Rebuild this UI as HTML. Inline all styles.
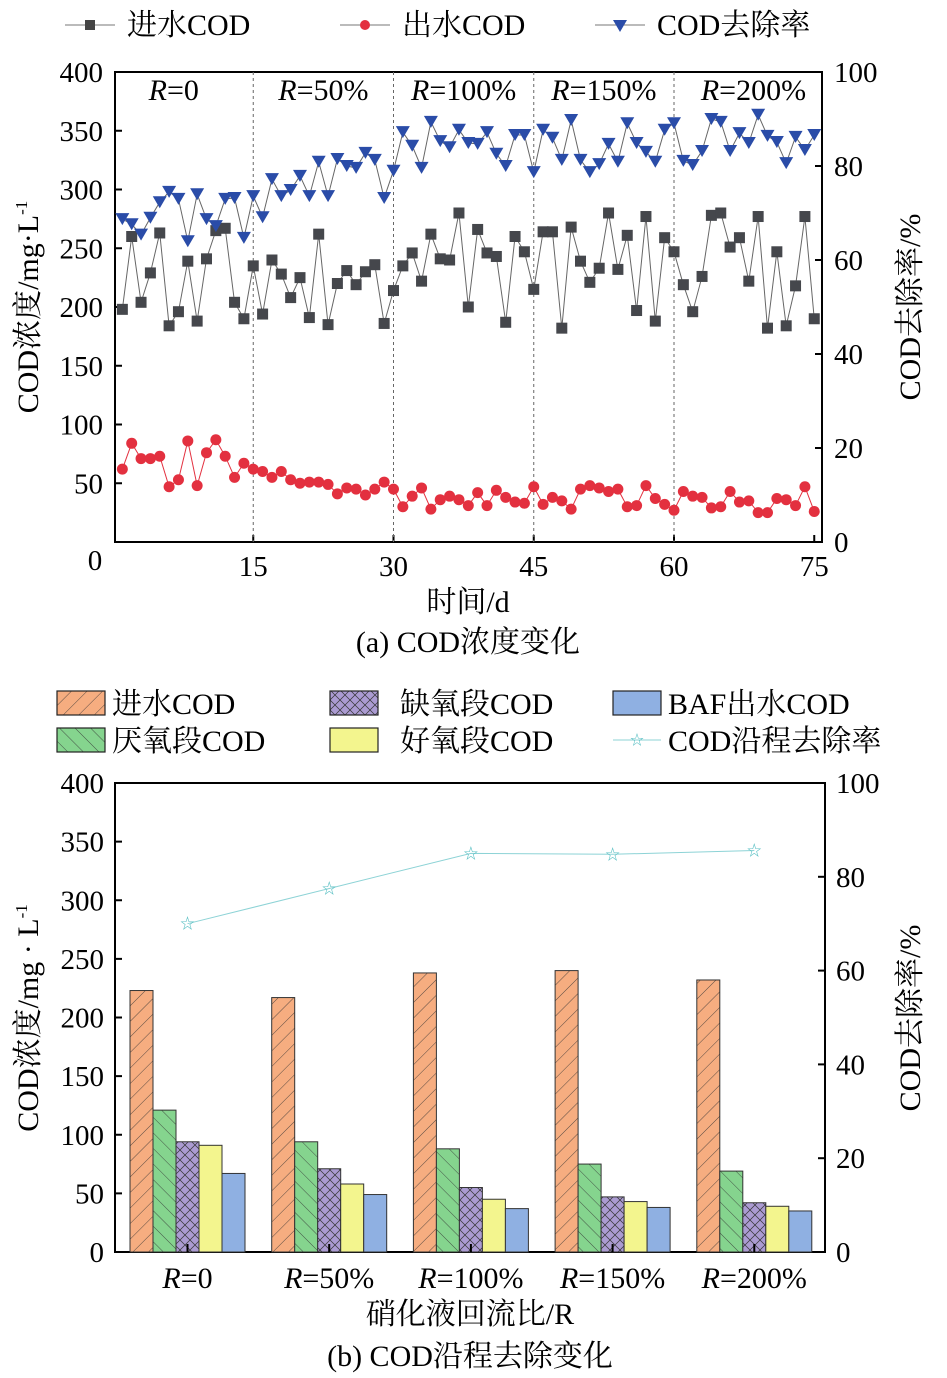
<!DOCTYPE html>
<html><head><meta charset="utf-8"><style>
html,body{margin:0;padding:0;background:#fff;}
svg{display:block;font-family:"Liberation Serif","Noto Serif CJK SC",serif;}
</style></head><body>
<svg id="chart" width="947" height="1378" viewBox="0 0 947 1378" xmlns="http://www.w3.org/2000/svg">
<defs>
<pattern id="hatchF" patternUnits="userSpaceOnUse" width="11" height="11" patternTransform="rotate(45)"><rect width="11" height="11" fill="#f6ad80"/><line x1="0" y1="0" x2="0" y2="11" stroke="#333" stroke-width="0.8"/></pattern>
<pattern id="hatchB" patternUnits="userSpaceOnUse" width="11" height="11" patternTransform="rotate(-45)"><rect width="11" height="11" fill="#85d48e"/><line x1="0" y1="0" x2="0" y2="11" stroke="#333" stroke-width="0.8"/></pattern>
<pattern id="hatchX" patternUnits="userSpaceOnUse" width="10" height="10"><rect width="10" height="10" fill="#ab9bd2"/><path d="M0 0L10 10M10 0L0 10" stroke="#333" stroke-width="0.7"/></pattern>
</defs>
<g id="top"></g>
<g id="bottom"></g>
</svg>
<script>
// ---- Top chart data ----
const days = Array.from({length:75},(_,i)=>i+1);
const influent = [198,260,204,229,263,184,196,239,188,241,265,267,204,190,235,194,240,228,208,225,191,262,185,220,231,219,230,236,186,214,235,246,222,262,241,240,280,200,266,246,243,187,260,247,215,264,264,182,268,239,221,233,280,232,261,197,277,188,259,247,219,196,226,278,280,251,259,222,277,182,247,184,218,277,190];
const effluent = [62,84,71,71,73,47,53,86,48,76,87,73,55,67,62,60,55,60,53,50,51,51,49,41,46,45,40,45,51,45,30,39,46,28,36,39,36,31,42,31,44,38,34,33,47,32,38,35,28,45,48,46,43,45,30,31,48,37,32,27,43,39,38,29,30,43,34,35,25,25,37,36,31,47,26];
const removal = [68.7,67.6,65.4,69,72.3,74.5,73,64,74,68.7,67.2,73,73.2,64.7,73.6,69.1,77.2,73.6,74.9,77.9,73.6,80.9,73.6,81.5,80,79.6,82.8,81.3,73.2,79,87.2,84.3,79.6,89.4,85.3,84,87.7,84.9,84.7,87.2,82.6,80,86.6,86.6,78.7,87.7,86,81.3,89.8,81.3,78.7,80.4,84.7,80.9,89.1,84.9,83,80.9,87.7,89.1,81.1,80.2,83.2,90,89.4,83.2,87,84.9,90.9,86.4,85.1,80.6,86.2,83.4,86.6];
const leftTicks = [0,50,100,150,200,250,300,350,400];
const rightTicks = [0,20,40,60,80,100];
const xTicks = [15,30,45,60,75];
const phaseLabels = ["0","50%","100%","150%","200%"];
const phaseLabelDays = [6.5,22.5,37.5,52.5,68.5];

// ---- Bottom chart data ----
const groups = ["0","50%","100%","150%","200%"];
const inCOD = [223,217,238,240,232];
const anaCOD = [121,94,88,75,69];
const anoxCOD = [94,71,55,47,42];
const oxCOD = [91,58,45,43,39];
const bafCOD = [67,49,37,38,35];
const rateB = [70,77.5,85,84.8,85.6];

const NS="http://www.w3.org/2000/svg";
const FS=29;
function el(tag,attrs,parent,text){const e=document.createElementNS(NS,tag);for(const k in attrs)e.setAttribute(k,attrs[k]);if(text!==undefined)e.textContent=text;parent.appendChild(e);return e;}

// ===== TOP =====
const T=document.getElementById('top');
const tx0=115,tx1=822,ty0=72,ty1=542;
const xT=d=>113+d*9.35;
const yL=v=>ty1-(v/400)*(ty1-ty0);
const yR=v=>ty1-(v/100)*(ty1-ty0);
const lg=el('g',{},T);

[[65,'进水COD','sq','#444'],[340,'出水COD','ci','#e3303f'],[595,'COD去除率','tr','#2a4ca8']].forEach(([x,t,m,c])=>{
 const g=el('g',{},lg);
 el('line',{x1:x,y1:25,x2:x+50,y2:25,stroke:'#777','stroke-width':1},g);
 if(m==='sq')el('rect',{x:x+20,y:20,width:10,height:10,fill:c},g);
 if(m==='ci')el('circle',{cx:x+25,cy:25,r:5,fill:c},g);
 if(m==='tr')el('path',{d:`M${x+18} 20L${x+32} 20L${x+25} 32Z`,fill:c},g);
 el('text',{x:x+62,y:35,'font-size':30},g,t);
});
const fr=el('rect',{x:tx0,y:ty0,width:tx1-tx0,height:ty1-ty0,fill:'none',stroke:'#000','stroke-width':2},T);

leftTicks.forEach(v=>{const y=yL(v);el('line',{x1:tx0,y1:y,x2:tx0+7,y2:y,stroke:'#000','stroke-width':2},T);
 if(v>0){const t=el('text',{x:103,y:y+10,'font-size':FS,'text-anchor':'end'},T,v);}});
el('text',{x:95,y:570,'font-size':FS,'text-anchor':'middle'},T,'0');
rightTicks.forEach(v=>{const y=yR(v);el('line',{x1:tx1,y1:y,x2:tx1-7,y2:y,stroke:'#000','stroke-width':2},T);
 const t=el('text',{x:834,y:v===0?552:y+10,'font-size':FS},T,v);});
xTicks.forEach((d,i)=>{const x=xT(d);el('line',{x1:x,y1:ty1,x2:x,y2:ty1-7,stroke:'#000','stroke-width':2},T);
 if(i<4)el('line',{x1:x,y1:ty0,x2:x,y2:ty1,stroke:'#666','stroke-width':1,'stroke-dasharray':'3,3'},T);
 const t=el('text',{x:x,y:576,'font-size':FS,'text-anchor':'middle'},T,d);});
phaseLabels.forEach((p,i)=>{const t=el('text',{x:xT(phaseLabelDays[i]),y:100,'font-size':30,'text-anchor':'middle'},T);
 
 el('tspan',{'font-style':'italic'},t,'R');el('tspan',{},t,'='+p);});
const yt=el('text',{transform:'translate(38,307) rotate(-90)','font-size':30,'text-anchor':'middle'},T,'COD浓度/mg·L');

el('tspan',{dy:-11,'font-size':17},yt,'-1');
const y2t=el('text',{transform:'translate(920,307) rotate(-90)','font-size':30,'text-anchor':'middle'},T,'COD去除率/%');

const xt=el('text',{x:468,y:612,'font-size':30,'text-anchor':'middle'},T,'时间/d');
const cap=el('text',{x:468,y:652,'font-size':30,'text-anchor':'middle'},T,'(a) COD浓度变化');
function series(vals,yf,color,marker,name){
 const g=el('g',{},T);
 el('polyline',{points:vals.map((v,i)=>xT(days[i])+','+yf(v)).join(' '),fill:'none',stroke:marker==='ci'?'#e3303f':'#666','stroke-width':1},g);
 vals.forEach((v,i)=>{const x=xT(days[i]),y=yf(v);let m;
  if(marker==='sq')m=el('rect',{x:x-5.5,y:y-5.5,width:11,height:11,fill:color},g);
  else if(marker==='ci')m=el('circle',{cx:x,cy:y,r:5.5,fill:color},g);
  else m=el('path',{d:`M${x-7} ${y-6}L${x+7} ${y-6}L${x} ${y+6}Z`,fill:color},g);
  });
}
series(influent,yL,'#45474c','sq','influent-series');
series(effluent,yL,'#e3303f','ci','effluent-series');
series(removal,yR,'#2a4ca8','tr','removal-series');

// ===== BOTTOM =====
const B=document.getElementById('bottom');
const bx0=115,bx1=825,by0=783,by1=1252;
const yB=v=>by1-(v/400)*(by1-by0);
const yB2=v=>by1-(v/100)*(by1-by0);
const gx=i=>187.5+i*141.7;
const items=[[57,703,'url(#hatchF)','进水COD'],[330,703,'url(#hatchX)','缺氧段COD'],[613,703,'#8fb0e2','BAF出水COD'],[57,740,'url(#hatchB)','厌氧段COD'],[330,740,'#f3f58e','好氧段COD']];
items.forEach(([x,y,f,t])=>{const g=el('g',{},B);
 el('rect',{x:x,y:y-12,width:48,height:24,fill:f,stroke:'#222','stroke-width':1.2},g);
 el('text',{x:x+(x===57?55:x===330?70:55),y:y+11,'font-size':30},g,t);});
{const g=el('g',{},B);
 el('line',{x1:613,y1:740,x2:661,y2:740,stroke:'#8dd3d6','stroke-width':1},g);
 el('text',{x:637,y:745,'font-size':14,fill:'#5bc0c4','text-anchor':'middle'},g,'☆');
 el('text',{x:668,y:751,'font-size':30},g,'COD沿程去除率');}
const fr2=el('rect',{x:bx0,y:by0,width:bx1-bx0,height:by1-by0,fill:'none',stroke:'#000','stroke-width':2},B);

leftTicks.forEach(v=>{const y=yB(v);el('line',{x1:bx0,y1:y,x2:bx0+7,y2:y,stroke:'#000','stroke-width':2},B);
 const t=el('text',{x:104,y:y+10,'font-size':FS,'text-anchor':'end'},B,v);});
rightTicks.forEach(v=>{const y=yB2(v);el('line',{x1:bx1,y1:y,x2:bx1-7,y2:y,stroke:'#000','stroke-width':2},B);
 const t=el('text',{x:836,y:y+10,'font-size':FS},B,v);});
const bw=23;
const sets=[[inCOD,'url(#hatchF)','bar-influent'],[anaCOD,'url(#hatchB)','bar-anaerobic'],[anoxCOD,'url(#hatchX)','bar-anoxic'],[oxCOD,'#f3f58e','bar-aerobic'],[bafCOD,'#8fb0e2','bar-baf']];
groups.forEach((gname,i)=>{
 sets.forEach(([arr,f,n],k)=>{const x=gx(i)+(k-2.5)*bw;const r=el('rect',{x:x,y:yB(arr[i]),width:bw,height:by1-yB(arr[i]),fill:f,stroke:'#333','stroke-width':1},B);
  });
 el('line',{x1:gx(i),y1:by1,x2:gx(i),y2:by1-8,stroke:'#000','stroke-width':2},B);
 const t=el('text',{x:gx(i),y:1288,'font-size':30,'text-anchor':'middle'},B);
 el('tspan',{'font-style':'italic'},t,'R');el('tspan',{},t,'='+gname);
});
{const g=el('g',{},B);
 el('polyline',{points:rateB.map((v,i)=>gx(i)+','+yB2(v)).join(' '),fill:'none',stroke:'#8dd3d6','stroke-width':1},g);
 rateB.forEach((v,i)=>{const s=el('text',{x:gx(i),y:yB2(v)+5,'font-size':15,fill:'#5bc0c4','text-anchor':'middle'},g,'☆');});}
const byt=el('text',{transform:'translate(38,1018) rotate(-90)','font-size':30,'text-anchor':'middle'},B,'COD浓度/mg · L');

el('tspan',{dy:-11,'font-size':17},byt,'-1');
const by2t=el('text',{transform:'translate(920,1018) rotate(-90)','font-size':30,'text-anchor':'middle'},B,'COD去除率/%');

const bxt=el('text',{x:470,y:1324,'font-size':30,'text-anchor':'middle'},B,'硝化液回流比/R');
const cap2=el('text',{x:470,y:1366,'font-size':30,'text-anchor':'middle'},B,'(b) COD沿程去除变化');
</script>
</body></html>
